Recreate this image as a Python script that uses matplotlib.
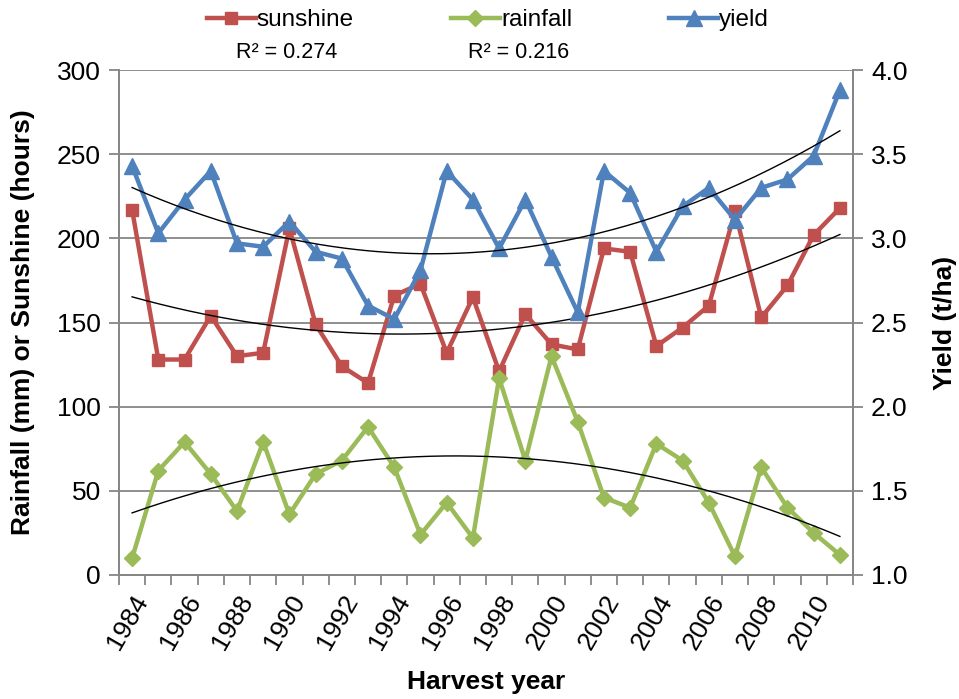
import numpy as np
import matplotlib.pyplot as plt

plt.rcParams['font.family'] = ['Liberation Sans', 'DejaVu Sans']

# data
years = list(range(1984, 2012))
sunshine = [217, 128, 128, 154, 130, 132, 206, 149, 124, 114, 166, 173,
            132, 165, 121, 155, 137, 134, 194, 192, 136, 147, 160, 216,
            153, 172, 202, 218]
rainfall = [10, 62, 79, 60, 38, 79, 36, 60, 68, 88, 64, 24,
            43, 22, 117, 68, 130, 91, 46, 40, 78, 68, 43, 11,
            64, 40, 25, 12]
yield_tha = [3.43, 3.03, 3.23, 3.40, 2.97, 2.95, 3.10, 2.92, 2.88, 2.60, 2.52, 2.81,
             3.40, 3.23, 2.94, 3.23, 2.89, 2.56, 3.40, 3.27, 2.92, 3.19, 3.30, 3.11,
             3.30, 3.35, 3.49, 3.88]
r2_labels = ['R² = 0.274', 'R² = 0.216']

red = '#C0504D'
green = '#9BBB59'
blue = '#4F81BD'
grey = '#868686'

fig = plt.figure(figsize=(9.59, 6.99), dpi=100)
ax = fig.add_axes([119 / 959, 1 - 575 / 699, (853 - 119) / 959, (575 - 70) / 699])
ax2 = ax.twinx()

x = np.arange(len(years))


def trend(axis, vals):
    c = np.polyfit(x, vals, 2)
    xs = np.linspace(x[0], x[-1], 200)
    axis.plot(xs, np.polyval(c, xs), color='black', lw=1.0, zorder=5)


l1, = ax.plot(x, sunshine, color=red, lw=3.2, marker='s', ms=9, label='sunshine', zorder=3)
l2, = ax.plot(x, rainfall, color=green, lw=3.2, marker='D', ms=8, label='rainfall', zorder=3)
trend(ax, sunshine)
trend(ax, rainfall)
l3, = ax2.plot(x, yield_tha, color=blue, lw=3.2, marker='^', ms=11.5, label='yield', zorder=3)
trend(ax2, yield_tha)

ax.set_xlim(-0.5, len(years) - 0.5)
ax.set_ylim(0, 300)
ax.set_yticks(range(0, 301, 50))
ax2.set_ylim(1.0, 4.0)
ax2.set_yticks(np.arange(1.0, 4.01, 0.5))
ax2.set_yticklabels([f'{v:.1f}' for v in np.arange(1.0, 4.01, 0.5)])
ax.yaxis.grid(True, color=grey, lw=1.3)
ax.set_axisbelow(True)

# category boundaries get tick marks, labels every other year at the centres
ax.set_xticks(np.arange(-0.5, len(years), 1.0))
ax.set_xticklabels([])
ax.set_xticks(x[::2], minor=True)
ax.set_xticklabels([str(y) for y in years[::2]], minor=True, rotation=60,
                   ha='right', va='top', rotation_mode='anchor', fontsize=19)
ax.tick_params(axis='x', which='major', length=7, color=grey, width=1.3)
ax.tick_params(axis='x', which='minor', length=0, pad=11)
ax.tick_params(axis='y', length=7, color=grey, width=1.3, labelsize=19, pad=6)
ax2.tick_params(axis='y', length=7, color=grey, width=1.3, labelsize=19, pad=6)

for a in (ax, ax2):
    a.spines['top'].set_visible(False)
    for s in ('left', 'right', 'bottom'):
        a.spines[s].set_color(grey)
        a.spines[s].set_linewidth(1.3)

ax.set_ylabel('Rainfall (mm) or Sunshine (hours)', fontsize=19, fontweight='bold', labelpad=16)
ax2.set_ylabel('Yield (t/ha)', fontsize=19, fontweight='bold', labelpad=18)
ax.set_xlabel('Harvest year', fontsize=19, fontweight='bold', labelpad=12)

fig.legend(handles=[l1, l2, l3], loc='center', bbox_to_anchor=(488 / 959, 1 - 20 / 699),
           ncol=3, frameon=False, fontsize=17.5, handlelength=2.0, handletextpad=0.05,
           columnspacing=4.0)
fig.text(287 / 959, 1 - 52 / 699, r2_labels[0], ha='center', va='center', fontsize=15.5)
fig.text(519 / 959, 1 - 52 / 699, r2_labels[1], ha='center', va='center', fontsize=15.5)

fig.savefig('out.png', dpi=100)
